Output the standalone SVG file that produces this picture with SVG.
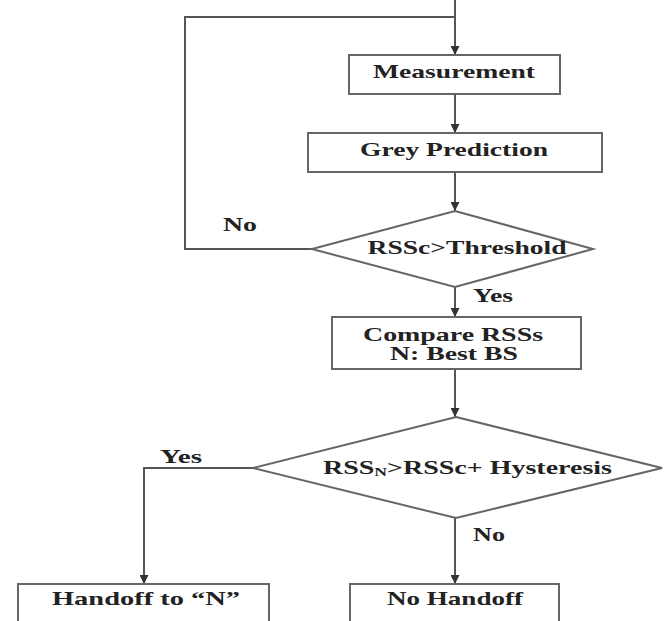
<svg xmlns="http://www.w3.org/2000/svg" width="666" height="621" viewBox="0 0 666 621">
<defs>
<marker id="arr" viewBox="0 0 10 10" refX="10" refY="5" markerWidth="9" markerHeight="9" markerUnits="userSpaceOnUse" orient="auto">
<path d="M0,0 L10,5 L0,10 Z" fill="#333"/>
</marker>
<style>
.n{fill:#fff;stroke:#666;stroke-width:2}
.t{font-family:"Liberation Serif","Times New Roman",serif;font-weight:bold;font-size:19px;fill:#222;text-anchor:middle}
.l{font-family:"Liberation Serif","Times New Roman",serif;font-weight:bold;font-size:19px;fill:#222}
.c{fill:none;stroke:#555;stroke-width:2}
.a{marker-end:url(#arr)}
</style>
</defs>
<rect width="666" height="621" fill="#fff"/>
<g id="connectors">
<path class="c a" d="M455,0 V55"/>
<path class="c" d="M312,249 H185 V17 H455"/>
<path class="c a" d="M455,94 V133"/>
<path class="c a" d="M455,172 V211"/>
<path class="c a" d="M455,287 V317"/>
<path class="c a" d="M455,369 V417"/>
<path class="c a" d="M253,468 H144 V584"/>
<path class="c a" d="M455,518 V584"/>
<text class="l" x="223" y="231" textLength="34" lengthAdjust="spacingAndGlyphs">No</text>
<text class="l" x="473" y="302" textLength="40" lengthAdjust="spacingAndGlyphs">Yes</text>
<text class="l" x="160" y="463" textLength="42" lengthAdjust="spacingAndGlyphs">Yes</text>
<text class="l" x="473" y="541" textLength="32" lengthAdjust="spacingAndGlyphs">No</text>
</g>
<g id="measurement">
<rect class="n" x="349" y="55" width="211" height="39"/>
<text class="t" x="454" y="78" textLength="162" lengthAdjust="spacingAndGlyphs">Measurement</text>
</g>
<g id="grey-prediction">
<rect class="n" x="308" y="133" width="294" height="39"/>
<text class="t" x="454" y="156" textLength="188" lengthAdjust="spacingAndGlyphs">Grey Prediction</text>
</g>
<g id="threshold">
<polygon class="n" points="455,211 593,249 455,287 312,249"/>
<text class="t" x="467" y="254" textLength="199" lengthAdjust="spacingAndGlyphs">RSSc&gt;Threshold</text>
</g>
<g id="compare">
<rect class="n" x="332" y="317" width="249" height="52"/>
<text class="t" x="453" y="341" textLength="180" lengthAdjust="spacingAndGlyphs">Compare RSSs</text>
<text class="t" x="454" y="360" textLength="128" lengthAdjust="spacingAndGlyphs">N: Best BS</text>
</g>
<g id="hysteresis">
<polygon class="n" points="456,417 662,468 456,518 253,468"/>
<text class="l" x="323" y="474" textLength="289" lengthAdjust="spacingAndGlyphs">RSS<tspan font-size="12" dy="2">N</tspan><tspan dy="-2">&gt;RSSc+ Hysteresis</tspan></text>
</g>
<g id="handoff">
<rect class="n" x="18" y="584" width="251" height="60"/>
<text class="t" x="146" y="605" textLength="188" lengthAdjust="spacingAndGlyphs">Handoff to “N”</text>
</g>
<g id="no-handoff">
<rect class="n" x="350" y="584" width="209" height="60"/>
<text class="t" x="455" y="605" textLength="136" lengthAdjust="spacingAndGlyphs">No Handoff</text>
</g>
</svg>
